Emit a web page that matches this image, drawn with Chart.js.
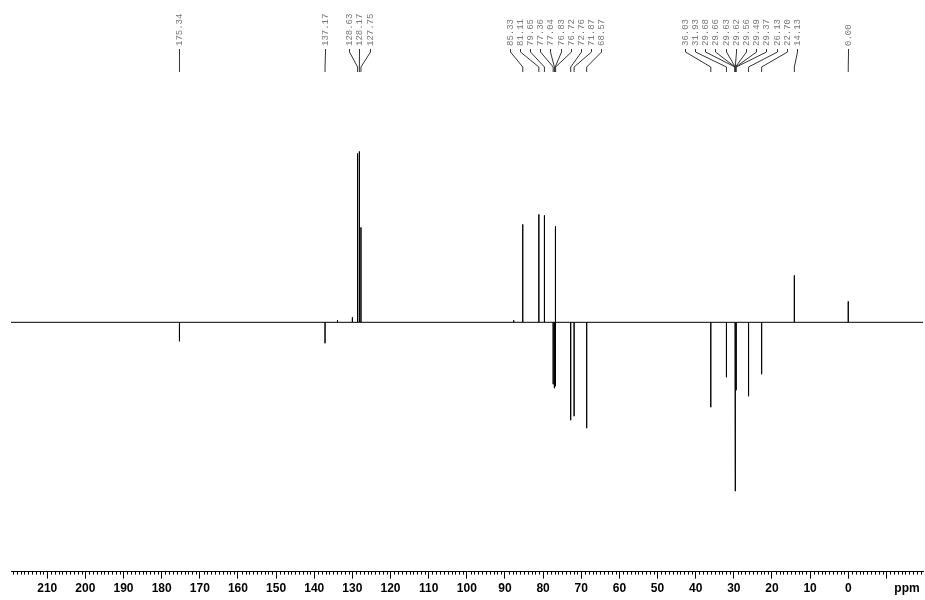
<!DOCTYPE html>
<html>
<head>
<meta charset="utf-8">
<title>13C DEPT-135</title>
<script src="https://cdn.jsdelivr.net/npm/chart.js@4.4.1/dist/chart.umd.min.js"></script>
<style>
  html, body { margin: 0; padding: 0; background: #fff; }
  #wrap { width: 925px; height: 600px; }
</style>
</head>
<body>
<div id="wrap"><canvas id="spectrum"></canvas></div>
<script>
// picked signals: shift (ppm) and height (up = CH/CH3, down = CH2)
var peakPpm = [175.34, 137.17, 128.63, 128.17, 127.75,
  85.33, 81.11, 79.65, 77.36, 77.04, 76.83, 76.72, 72.76, 71.87, 68.57,
  36.03, 31.93, 29.68, 29.66, 29.63, 29.62, 29.56, 29.49, 29.37, 26.13, 22.70, 14.13, 0.00];
var peakHeight = [-19, -21, 169, 171, 95,
  98, 108, 107, -62, -66, 96, -64, -98, -94, -106,
  -85, -55, -169, -70, -60, -50, -45, -60, -68, -74, -52, 47, 21];

// small signals that were not picked
var minorPpm = [133.9, 130.0, 87.7];
var minorHeight = [2, 5, 2];

// axis
var axisTicks = [210, 200, 190, 180, 170, 160, 150, 140, 130, 120, 110, 100,
  90, 80, 70, 60, 50, 40, 30, 20, 10, 0, -10];
var ppmRange = [-19.6, 219.5];

// build the stick spectrum, walking from high to low field
var sticks = [];
for (var i = 0; i < peakPpm.length; i++) sticks.push([peakPpm[i], peakHeight[i]]);
for (var j = 0; j < minorPpm.length; j++) sticks.push([minorPpm[j], minorHeight[j]]);
sticks.sort(function (a, b) { return b[0] - a[0]; });

var trace = [{ x: ppmRange[1], y: 0 }];
sticks.forEach(function (s) {
  trace.push({ x: s[0], y: 0 }, { x: s[0], y: s[1] }, { x: s[0], y: 0 });
});
trace.push({ x: ppmRange[0], y: 0 });

// peak labels at the top, spread apart with leader lines
var peakLabels = {
  id: 'peakLabels',
  afterDatasetsDraw: function (chart) {
    var ctx = chart.ctx, xs = chart.scales.x;
    var gap = 10.2;
    var items = peakPpm.map(function (p) {
      return { ppm: p, px: xs.getPixelForValue(p) };
    }).sort(function (a, b) { return a.px - b.px; });

    function start(g) {
      var m = g.reduce(function (s, it) { return s + it.px; }, 0) / g.length;
      return m - (g.length - 1) * gap / 2;
    }
    var groups = items.map(function (it) { return [it]; });
    var merged = true;
    while (merged) {
      merged = false;
      for (var i = 0; i < groups.length - 1; i++) {
        var a = groups[i], b = groups[i + 1];
        if (start(b) - (start(a) + (a.length - 1) * gap) < gap) {
          groups.splice(i, 2, a.concat(b));
          merged = true;
          break;
        }
      }
    }

    ctx.save();
    ctx.font = '9px "Liberation Mono"';
    ctx.textAlign = 'left';
    ctx.textBaseline = 'middle';
    ctx.lineWidth = 1;
    ctx.strokeStyle = '#333';
    ctx.fillStyle = '#777';
    groups.forEach(function (g) {
      var x0 = start(g);
      g.forEach(function (it, k) {
        var lx = Math.round(x0 + k * gap) + 0.5;
        ctx.save();
        ctx.translate(lx, 46);
        ctx.rotate(-Math.PI / 2);
        ctx.fillText(it.ppm.toFixed(2), 0, 0);
        ctx.restore();
        ctx.beginPath();
        ctx.moveTo(lx, 49);
        ctx.lineTo(lx, 52);
        ctx.lineTo(it.px, 67);
        ctx.lineTo(it.px, 72);
        ctx.stroke();
      });
    });
    ctx.restore();
  },
  afterDraw: function (chart) {
    var ctx = chart.ctx, xs = chart.scales.x, bottom = chart.chartArea.bottom;
    ctx.save();
    // minor ticks every 1 ppm
    ctx.strokeStyle = '#000';
    ctx.lineWidth = 1;
    ctx.beginPath();
    for (var v = Math.ceil(ppmRange[0]); v <= Math.floor(ppmRange[1]); v++) {
      if (v % 10 === 0) continue;
      var px = Math.round(xs.getPixelForValue(v)) + 0.5;
      ctx.moveTo(px, bottom);
      ctx.lineTo(px, bottom + 3);
    }
    ctx.stroke();
    // unit label
    ctx.font = 'bold 12px "Liberation Sans"';
    ctx.fillStyle = '#000';
    ctx.textAlign = 'center';
    ctx.textBaseline = 'middle';
    ctx.fillText('ppm', 907, bottom + 17);
    ctx.restore();
  }
};

new Chart(document.getElementById('spectrum').getContext('2d'), {
  type: 'line',
  data: {
    datasets: [{
      data: trace,
      borderColor: '#000',
      borderWidth: 1,
      pointRadius: 0,
      tension: 0,
      fill: false
    }]
  },
  plugins: [peakLabels],
  options: {
    responsive: true,
    maintainAspectRatio: false,
    animation: false,
    events: [],
    layout: { padding: { top: 72, left: 11, right: 2, bottom: 1 } },
    plugins: { legend: { display: false }, tooltip: { enabled: false } },
    scales: {
      x: {
        type: 'linear',
        reverse: true,
        min: ppmRange[0],
        max: ppmRange[1],
        afterBuildTicks: function (scale) {
          scale.ticks = axisTicks.map(function (v) { return { value: v }; });
        },
        grid: { drawOnChartArea: false, drawTicks: true, tickLength: 7, color: '#000' },
        border: { display: true, color: '#000', width: 1 },
        ticks: {
          autoSkip: false,
          maxRotation: 0,
          padding: 3,
          color: '#000',
          font: { family: '"Liberation Sans"', size: 12, weight: 'bold' },
          callback: function (v) { return v >= 0 ? String(v) : ''; }
        }
      },
      y: {
        display: false,
        min: -249.5,
        max: 250.5
      }
    }
  }
});
</script>
</body>
</html>
